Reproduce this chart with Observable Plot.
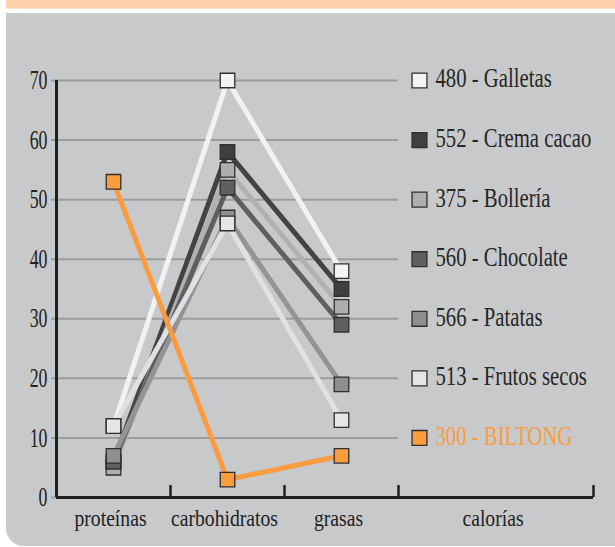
<!DOCTYPE html>
<html>
<head>
<meta charset="utf-8">
<script src="https://cdn.jsdelivr.net/npm/d3@7"></script>
<script src="https://cdn.jsdelivr.net/npm/@observablehq/plot@0.6"></script>
<style>
  body { margin: 0; background: #ffffff; }
  #wrap { position: relative; width: 615px; height: 547px; overflow: hidden; }
  #band { position: absolute; left: 6px; top: 0; width: 609px; height: 8px; background: #fdd1ab; border-bottom: 1px solid #fde3cc; }
  #panel { position: absolute; left: 6px; top: 13px; width: 609px; height: 533px; background: #c8c9cb; border-bottom-left-radius: 18px; }
  #chart { position: absolute; left: 0; top: 0; }
  #chart svg text { font-family: "Liberation Serif", serif; }
</style>
</head>
<body>
<div id="wrap">
  <div id="band"></div>
  <div id="panel"></div>
  <div id="chart"></div>
</div>
<script>
// ---- data ----
const categories = ["proteínas", "carbohidratos", "grasas", "calorías"];
const names = ["Galletas", "Crema cacao", "Bollería", "Chocolate", "Patatas", "Frutos secos", "BILTONG"];
const calories = [480, 552, 375, 560, 566, 513, 300];
const proteinas = [12, 6, 5, 6, 7, 12, 53];
const carbohidratos = [70, 58, 55, 52, 47, 46, 3];
const grasas = [38, 35, 32, 29, 19, 13, 7];
const yTicks = [0, 10, 20, 30, 40, 50, 60, 70];

// ---- styles ----
const lineColors = ["#f2f2f4", "#434345", "#b0b1b3", "#5e5f61", "#939496", "#e0e1e3", "#f99c3f"];
const fillColors = ["#f3f3f5", "#3f3f41", "#adaeb0", "#5f6062", "#8e8f91", "#e4e5e7", "#f99d3f"];
const textColors = ["#262626", "#262626", "#262626", "#262626", "#262626", "#262626", "#f99d3f"];

const nutrientValues = [proteinas, carbohidratos, grasas];
const xMax = 537 / 114; // last (calorías) band is wider
const series = names.map((name, i) => ({
  name, label: `${calories[i]} - ${name}`,
  lineColor: lineColors[i], fillColor: fillColors[i], textColor: textColors[i],
  row: yTicks[yTicks.length - 1 - i]
}));
const rows = series.flatMap((s, i) =>
  nutrientValues.map((vals, j) => ({ name: s.name, cat: categories[j], xi: j + 0.5, value: vals[i], lineColor: s.lineColor, fillColor: s.fillColor }))
);
const catLabels = categories.map((c, i) => ({ c, x: i < 3 ? i + 0.5 : (3 + xMax) / 2 }));

const FONT = "Liberation Serif";
const chart = Plot.plot({
  width: 615,
  height: 547,
  marginLeft: 56,
  marginRight: 22,
  marginTop: 80,
  marginBottom: 50,
  style: { fontFamily: FONT, background: "transparent", overflow: "visible" },
  x: { type: "linear", domain: [0, xMax], axis: null },
  y: { domain: [0, 70], axis: null },
  color: { type: "identity" },
  marks: [
    Plot.ruleY(yTicks.filter(t => t > 0), { x1: 0, x2: 3, stroke: "#9c9c9e", strokeWidth: 2 }),
    Plot.axisY({ ticks: yTicks, tickSize: 5, tickPadding: 4, stroke: "#9c9c9e", strokeWidth: 2, fill: "#222222", fontSize: 27, fontFamily: FONT, tickFormat: d => d }),
    Plot.ruleX([0], { y1: 0, y2: 70, stroke: "#1f1f1f", strokeWidth: 3 }),
    Plot.ruleY([0], { x1: 0, x2: xMax, stroke: "#1f1f1f", strokeWidth: 3 }),
    Plot.ruleX([1, 2, 3, xMax], { y1: 0, y2: 2, stroke: "#1f1f1f", strokeWidth: 2.5 }),
    Plot.line(rows, { x: "xi", y: "value", z: "name", stroke: "lineColor", strokeWidth: 5, curve: "linear" }),
    Plot.dot(rows, { x: "xi", y: "value", symbol: "square", r: 8.2, fill: "fillColor", stroke: "#2f2f31", strokeWidth: 1.3 }),
    Plot.dot(series, { x: 3, y: "row", dx: 21, symbol: "square", r: 8.4, fill: "fillColor", stroke: "#2f2f31", strokeWidth: 1.3 }),
    Plot.text(series, { x: 3, y: "row", dx: 37, dy: -2, text: "label", fill: "textColor", textAnchor: "start", fontSize: 28, fontFamily: FONT }),
    Plot.text(catLabels, { x: "x", y: 0, dy: 21, dx: -3, text: "c", fill: "#222222", fontSize: 24, fontFamily: FONT })
  ]
});
document.getElementById("chart").appendChild(chart);

// condense the serif texts horizontally (the original uses a condensed face)
const legendSet = new Set(series.map(s => s.label));
const catSet = new Set(categories);
chart.querySelectorAll("text").forEach(t => {
  const s = t.textContent.trim();
  let sx = null;
  if (legendSet.has(s)) sx = 0.74;
  else if (catSet.has(s)) sx = 0.82;
  else if (/^\d+$/.test(s)) sx = 0.66;
  if (sx == null) return;
  t.setAttribute("font-family", FONT);
  t.style.fontFamily = `"${FONT}", serif`;
  const x = parseFloat(t.getAttribute("x")) || 0;
  const tr = t.getAttribute("transform") || "";
  t.setAttribute("transform", `${tr} translate(${x},0) scale(${sx},1) translate(${-x},0)`);
});
</script>
</body>
</html>
